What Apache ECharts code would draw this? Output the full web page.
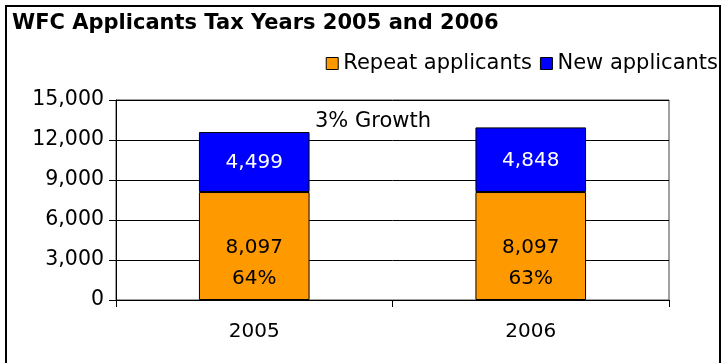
<!DOCTYPE html>
<html>
<head>
<meta charset="utf-8">
<script src="https://cdn.jsdelivr.net/npm/echarts@6/dist/echarts.min.js"></script>
<style>
  html, body { margin: 0; padding: 0; background: #fff; }
  #chart { width: 725px; height: 363px; }
</style>
</head>
<body>
<div id="chart"></div>
<script>
// Applicant counts by tax year
const years = ['2005', '2006'];
const repeatApplicants = [8097, 8097];
const newApplicants = [4499, 4848];
const yTicks = [0, 3000, 6000, 9000, 12000, 15000];

const FONT = 'DejaVu Sans, Verdana, sans-serif';
const fmt = v => v.toLocaleString('en-US');
const totals = years.map((_, i) => repeatApplicants[i] + newApplicants[i]);
const repeatShare = years.map((_, i) => Math.round(repeatApplicants[i] / totals[i] * 100));
const growth = Math.round((totals[1] / totals[0] - 1) * 100);

const chart = echarts.init(document.getElementById('chart'));
chart.setOption({
  animation: false,
  textStyle: { fontFamily: FONT },
  title: {
    text: 'WFC Applicants Tax Years 2005 and 2006',
    left: 12, top: 13, padding: 0,
    textStyle: { fontFamily: FONT, fontWeight: 'bold', fontSize: 21, color: '#000' }
  },
  legend: {
    right: 7, top: 53, padding: 0,
    itemWidth: 12, itemHeight: 12, itemGap: 8,
    textStyle: { fontFamily: FONT, fontSize: 21, color: '#000', padding: [0, 0, 0, 0] },
    data: [
      { name: 'Repeat applicants', icon: 'rect', itemStyle: { borderColor: '#000', borderWidth: 1 } },
      { name: 'New applicants', icon: 'rect', itemStyle: { borderColor: '#000', borderWidth: 1 } }
    ]
  },
  grid: {
    left: 116, right: 56, top: 100, bottom: 63,
    show: true, borderColor: '#444', borderWidth: 1
  },
  xAxis: {
    type: 'category',
    data: years,
    axisLine: { lineStyle: { color: '#000', width: 1 } },
    axisTick: { show: true, length: 7, lineStyle: { color: '#000' } },
    axisLabel: { fontFamily: FONT, fontSize: 20, color: '#000', margin: 22 }
  },
  yAxis: {
    type: 'value',
    min: yTicks[0], max: yTicks[yTicks.length - 1], interval: 3000,
    axisLine: { show: true, lineStyle: { color: '#000', width: 1 } },
    axisTick: { show: true, length: 7, lineStyle: { color: '#000' } },
    axisLabel: { fontFamily: FONT, fontSize: 20.5, color: '#000', margin: 12, formatter: v => fmt(v) },
    splitLine: { lineStyle: { color: '#000', width: 1 } }
  },
  series: [
    {
      name: 'Repeat applicants',
      type: 'bar', stack: 'total', barWidth: '40%',
      data: repeatApplicants,
      itemStyle: { color: '#FF9900', borderColor: '#000', borderWidth: 1 },
      label: {
        show: true, position: 'inside', offset: [0, 17],
        fontFamily: FONT, fontSize: 20, color: '#000', lineHeight: 31,
        formatter: p => fmt(p.value) + '\n' + repeatShare[p.dataIndex] + '%'
      }
    },
    {
      name: 'New applicants',
      type: 'bar', stack: 'total', barWidth: '40%',
      data: newApplicants,
      itemStyle: { color: '#0000FF', borderColor: '#000', borderWidth: 1 },
      label: {
        show: true, position: 'inside', offset: [0, 1],
        fontFamily: FONT, fontSize: 20, color: '#fff',
        formatter: p => fmt(p.value)
      }
    }
  ],
  graphic: [
    {
      type: 'rect', silent: true, z: -1,
      shape: { x: 6, y: 6, width: 714, height: 370 },
      style: { fill: 'none', stroke: '#000', lineWidth: 2 }
    },
    {
      type: 'text', left: 315, top: 111,
      style: { text: growth + '% Growth', font: '21px ' + FONT, fill: '#000' }
    }
  ]
});
</script>
</body>
</html>
